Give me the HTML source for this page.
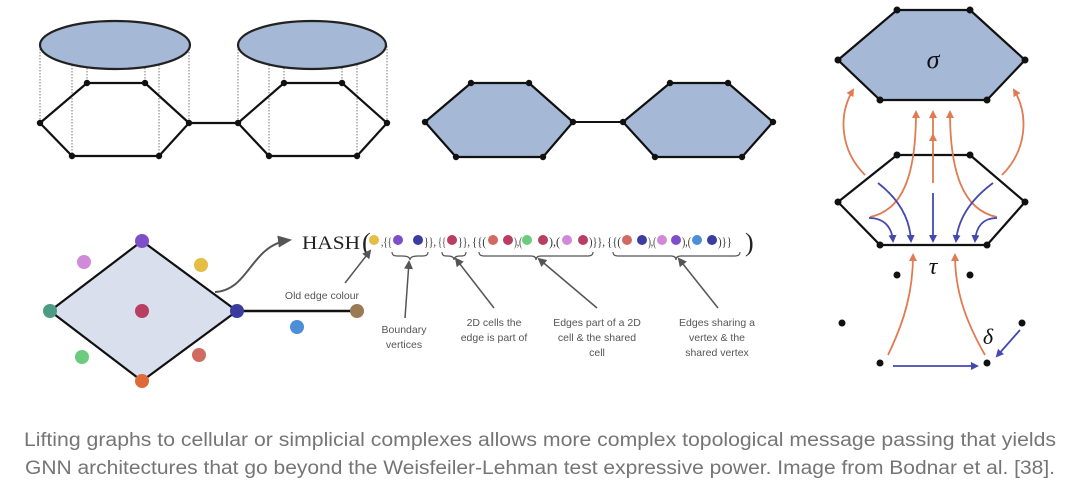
<!DOCTYPE html>
<html><head><meta charset="utf-8"><style>
html,body{margin:0;padding:0;background:#fff;width:1080px;height:502px;overflow:hidden}
svg{display:block}
</style></head><body>
<svg width="1080" height="502" viewBox="0 0 1080 502" xmlns="http://www.w3.org/2000/svg">
<defs>
<marker id="ao" markerWidth="8" markerHeight="8" refX="6" refY="4" orient="auto" markerUnits="userSpaceOnUse"><path d="M0,0 L8,4 L0,8 Z" fill="#e07b53"/></marker>
<marker id="ab" markerWidth="8" markerHeight="8" refX="6" refY="4" orient="auto" markerUnits="userSpaceOnUse"><path d="M0,0 L8,4 L0,8 Z" fill="#4548b0"/></marker>
<marker id="ag" markerWidth="9" markerHeight="9" refX="7" refY="4.5" orient="auto" markerUnits="userSpaceOnUse"><path d="M0,0 L9,4.5 L0,9 Z" fill="#555"/></marker>
<marker id="ag2" markerWidth="14" markerHeight="12" refX="12" refY="6" orient="auto" markerUnits="userSpaceOnUse"><path d="M0,0 L14,6 L0,12 Z" fill="#555"/></marker>
</defs>
<g stroke="#777" stroke-width="1" stroke-dasharray="1.5,1.5">
<line x1="40" y1="46" x2="40" y2="123"/><line x1="72" y1="62" x2="72" y2="156"/><line x1="87" y1="68" x2="87" y2="83"/><line x1="145" y1="68" x2="145" y2="83"/><line x1="159" y1="62" x2="159" y2="156"/><line x1="189" y1="46" x2="189" y2="123"/>
<line x1="238" y1="46" x2="238" y2="123"/><line x1="269" y1="62" x2="269" y2="156"/><line x1="284" y1="68" x2="284" y2="83"/><line x1="342" y1="68" x2="342" y2="83"/><line x1="357" y1="62" x2="357" y2="156"/><line x1="387" y1="46" x2="387" y2="123"/>
</g>
<ellipse cx="115" cy="45" rx="75" ry="24" fill="#a5b8d6" stroke="#222" stroke-width="2.2"/>
<ellipse cx="312" cy="45" rx="74" ry="24" fill="#a5b8d6" stroke="#222" stroke-width="2.2"/>
<g stroke="#111" stroke-width="2.2" fill="none">
<polygon points="40,123 87,83 145,83 189,123 159,156 72,156"/>
<polygon points="238,123 284,83 342,83 387,123 357,156 269,156"/>
<line x1="189" y1="123" x2="238" y2="123"/>
</g>
<g fill="#111">
<circle cx="40" cy="123" r="3.2"/><circle cx="87" cy="83" r="3.2"/><circle cx="145" cy="83" r="3.2"/><circle cx="189" cy="123" r="3.2"/><circle cx="159" cy="156" r="3.2"/><circle cx="72" cy="156" r="3.2"/>
<circle cx="238" cy="123" r="3.2"/><circle cx="284" cy="83" r="3.2"/><circle cx="342" cy="83" r="3.2"/><circle cx="387" cy="123" r="3.2"/><circle cx="357" cy="156" r="3.2"/><circle cx="269" cy="156" r="3.2"/>
</g>
<g stroke="#111" stroke-width="2.2" fill="#a5b8d6">
<polygon points="425,122 471,83 529,83 573,122 543,157 456,157"/>
<polygon points="623,122 670,83 728,83 773,122 742,157 655,157"/>
</g>
<line x1="573" y1="122" x2="623" y2="122" stroke="#111" stroke-width="2"/>
<g fill="#111">
<circle cx="425" cy="122" r="3.2"/><circle cx="471" cy="83" r="3.2"/><circle cx="529" cy="83" r="3.2"/><circle cx="573" cy="122" r="3.2"/><circle cx="543" cy="157" r="3.2"/><circle cx="456" cy="157" r="3.2"/>
<circle cx="623" cy="122" r="3.2"/><circle cx="670" cy="83" r="3.2"/><circle cx="728" cy="83" r="3.2"/><circle cx="773" cy="122" r="3.2"/><circle cx="742" cy="157" r="3.2"/><circle cx="655" cy="157" r="3.2"/>
</g>
<polygon points="142,241 237,311 142,381 50,311" fill="#d9dfec" stroke="#111" stroke-width="2.2"/>
<line x1="237" y1="311" x2="357" y2="311" stroke="#111" stroke-width="2.5"/>
<circle cx="142" cy="241" r="7" fill="#7e4fc8"/>
<circle cx="50" cy="311" r="7" fill="#4d9b82"/>
<circle cx="237" cy="311" r="7" fill="#3a3d9e"/>
<circle cx="142" cy="381" r="7" fill="#dd6a3a"/>
<circle cx="357" cy="311" r="7" fill="#9a7a52"/>
<circle cx="84" cy="262" r="7" fill="#d08ad8"/>
<circle cx="201" cy="265" r="7" fill="#e4bd42"/>
<circle cx="142" cy="311" r="7" fill="#b83e62"/>
<circle cx="82" cy="357" r="7" fill="#6ccb7e"/>
<circle cx="199" cy="355" r="7" fill="#d06a62"/>
<circle cx="297" cy="327" r="7" fill="#4b8fd6"/>
<path d="M215,292 C250,290 250,245 290,240" fill="none" stroke="#555" stroke-width="2" marker-end="url(#ag2)"/>
<text x="302" y="249" font-family="Liberation Serif, serif" font-size="19" fill="#222" textLength="58" lengthAdjust="spacingAndGlyphs">HASH</text>
<text x="362" y="251" font-family="Liberation Serif, serif" font-size="26" fill="#222">(</text>
<text x="745" y="251" font-family="Liberation Serif, serif" font-size="26" fill="#222">)</text>
<g font-family="Liberation Serif, serif" font-size="13" fill="#333" lengthAdjust="spacingAndGlyphs">
<text x="381" y="246" textLength="11" lengthAdjust="spacingAndGlyphs">,{{</text><text x="424" y="246" textLength="12" lengthAdjust="spacingAndGlyphs">}},</text>
<text x="438" y="246" textLength="8" lengthAdjust="spacingAndGlyphs">{{</text><text x="458" y="246" textLength="12" lengthAdjust="spacingAndGlyphs">}},</text>
<text x="472" y="246" textLength="14" lengthAdjust="spacingAndGlyphs">{{(</text><text x="514" y="246" textLength="8" lengthAdjust="spacingAndGlyphs">),(</text><text x="549" y="246" textLength="11" lengthAdjust="spacingAndGlyphs">),(</text><text x="589" y="246" textLength="16" lengthAdjust="spacingAndGlyphs">)}},</text>
<text x="607" y="246" textLength="14" lengthAdjust="spacingAndGlyphs">{{(</text><text x="648" y="246" textLength="8" lengthAdjust="spacingAndGlyphs">),(</text><text x="682" y="246" textLength="9" lengthAdjust="spacingAndGlyphs">),(</text><text x="718" y="246" textLength="14" lengthAdjust="spacingAndGlyphs">)}}</text>
</g>
<g>
<circle cx="374" cy="240" r="5" fill="#e4bd42"/>
<circle cx="398" cy="240" r="5" fill="#7e4fc8"/><circle cx="418" cy="240" r="5" fill="#3a3d9e"/>
<circle cx="452" cy="240" r="5" fill="#b83e62"/>
<circle cx="493" cy="240" r="5" fill="#d06a62"/><circle cx="508" cy="240" r="5" fill="#b83e62"/>
<circle cx="527" cy="240" r="5" fill="#6ccb7e"/><circle cx="543" cy="240" r="5" fill="#b83e62"/>
<circle cx="567" cy="240" r="5" fill="#d08ad8"/><circle cx="583" cy="240" r="5" fill="#b83e62"/>
<circle cx="627" cy="240" r="5" fill="#d06a62"/><circle cx="642" cy="240" r="5" fill="#3a3d9e"/>
<circle cx="662" cy="240" r="5" fill="#d08ad8"/><circle cx="676" cy="240" r="5" fill="#7e4fc8"/>
<circle cx="697" cy="240" r="5" fill="#4b8fd6"/><circle cx="712" cy="240" r="5" fill="#3a3d9e"/>
</g>
<g fill="none" stroke="#555" stroke-width="1.2">
<path d="M392,252 q0,4 5,4 h5 q8,0 8,4 q0,-4 8,-4 h5 q5,0 5,-4"/>
<path d="M442,252 q0,4 4,4 h2 q6,0 6,4 q0,-4 6,-4 h2 q4,0 4,-4"/>
<path d="M479,252 q0,4 5,4 h47 q5,0 5,4 q0,-4 5,-4 h47 q5,0 5,-4"/>
<path d="M613,252 q0,4 5,4 h53 q5,0 5,4 q0,-4 5,-4 h54 q5,0 5,-4"/>
</g>
<g stroke="#555" stroke-width="1.5" fill="none">
<line x1="345" y1="283" x2="370" y2="251" marker-end="url(#ag)"/>
<line x1="405" y1="318" x2="409" y2="262" marker-end="url(#ag)"/>
<line x1="494" y1="308" x2="456" y2="259" marker-end="url(#ag)"/>
<line x1="597" y1="308" x2="539" y2="259" marker-end="url(#ag)"/>
<line x1="718" y1="308" x2="679" y2="259" marker-end="url(#ag)"/>
</g>
<g font-family="Liberation Sans, sans-serif" font-size="10.5" fill="#555" text-anchor="middle">
<text x="322" y="299">Old edge colour</text>
<text x="404" y="333">Boundary</text><text x="404" y="348">vertices</text>
<text x="494" y="326">2D cells the</text><text x="494" y="341">edge is part of</text>
<text x="597" y="326">Edges part of a 2D</text><text x="597" y="341">cell &amp; the shared</text><text x="597" y="356">cell</text>
<text x="717" y="326">Edges sharing a</text><text x="717" y="341">vertex &amp; the</text><text x="717" y="356">shared vertex</text>
</g>
<polygon points="838,60 897,10 970,10 1025,60 987,100 880,100" fill="#a5b8d6" stroke="#111" stroke-width="2.2"/>
<polygon points="838,202 897,155 970,155 1025,202 987,245 880,245" fill="#fff" stroke="#111" stroke-width="2.2"/>
<g fill="#111">
<circle cx="838" cy="60" r="3.5"/><circle cx="897" cy="10" r="3.5"/><circle cx="970" cy="10" r="3.5"/><circle cx="1025" cy="60" r="3.5"/><circle cx="987" cy="100" r="3.5"/><circle cx="880" cy="100" r="3.5"/>
<circle cx="838" cy="202" r="3.5"/><circle cx="897" cy="155" r="3.5"/><circle cx="970" cy="155" r="3.5"/><circle cx="1025" cy="202" r="3.5"/><circle cx="987" cy="245" r="3.5"/><circle cx="880" cy="245" r="3.5"/>
<circle cx="897" cy="275" r="3.5"/><circle cx="970" cy="275" r="3.5"/><circle cx="842" cy="323" r="3.5"/><circle cx="1022" cy="323" r="3.5"/><circle cx="880" cy="363" r="3.5"/><circle cx="987" cy="363" r="3.5"/>
</g>
<g fill="none" stroke="#e07b53" stroke-width="1.8">
<path d="M865,175 C840,150 838,115 853,90" marker-end="url(#ao)"/>
<path d="M1002,175 C1027,150 1029,115 1014,90" marker-end="url(#ao)"/>
<path d="M870,217 C905,210 916,170 916,112" marker-end="url(#ao)"/>
<path d="M997,217 C962,210 950,170 950,112" marker-end="url(#ao)"/>
<path d="M933,183 L933,135" marker-end="url(#ao)"/>
<path d="M933,135 L933,112" marker-end="url(#ao)"/>
<path d="M888,355 C905,320 913,290 913,255" marker-end="url(#ao)"/>
<path d="M985,355 C965,320 955,290 955,255" marker-end="url(#ao)"/>
</g>
<g fill="none" stroke="#4548b0" stroke-width="1.8">
<path d="M878,183 C900,200 910,220 911,241" marker-end="url(#ab)"/>
<path d="M869,218 C885,218 892,228 893,241" marker-end="url(#ab)"/>
<path d="M933,193 L933,241" marker-end="url(#ab)"/>
<path d="M993,183 C970,200 958,220 956,241" marker-end="url(#ab)"/>
<path d="M997,218 C982,218 976,228 975,241" marker-end="url(#ab)"/>
<path d="M893,366 L977,366" marker-end="url(#ab)"/>
<path d="M1020,330 L997,356" marker-end="url(#ab)"/>
</g>
<g font-family="Liberation Serif, serif" font-style="italic" fill="#111">
<text x="933" y="68" font-size="26" text-anchor="middle">σ</text>
<text x="933" y="274" font-size="24" text-anchor="middle">τ</text>
<text x="988" y="344" font-size="22" text-anchor="middle">δ</text>
</g>
<g font-family="Liberation Sans, sans-serif" font-size="19" fill="#757575" text-anchor="middle">
<text x="540" y="446" textLength="1032" lengthAdjust="spacingAndGlyphs">Lifting graphs to cellular or simplicial complexes allows more complex topological message passing that yields</text>
<text x="540" y="474" textLength="1030" lengthAdjust="spacingAndGlyphs">GNN architectures that go beyond the Weisfeiler-Lehman test expressive power. Image from Bodnar et al. [38].</text>
</g>
</svg>
</body></html>
